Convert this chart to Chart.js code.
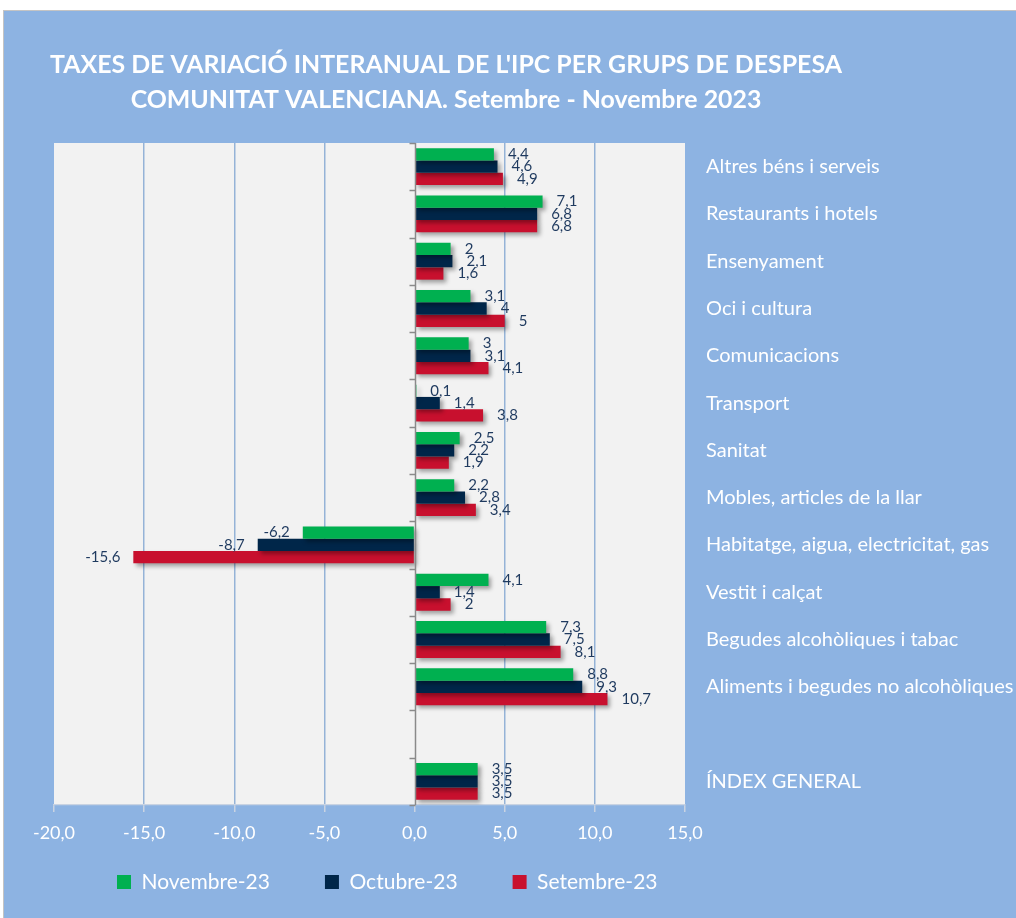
<!DOCTYPE html>
<html>
<head>
<meta charset="utf-8">
<script src="https://cdn.jsdelivr.net/npm/chart.js@4.4.0/dist/chart.umd.min.js"></script>
<style>
  html, body { margin: 0; padding: 0; background: #ffffff; }
  #wrap { position: absolute; left: 3px; top: 10px; width: 1012px; height: 907px;
          border-left: 1px solid #c4c4c4; border-top: 1px solid #c4c4c4; background: #8db3e2; }
  canvas { display: block; }
</style>
</head>
<body>
<div id="wrap"><canvas id="c" width="1012" height="907"></canvas></div>
<script>
// ---- data ----
const categories = [
  'Altres béns i serveis',
  'Restaurants i hotels',
  'Ensenyament',
  'Oci i cultura',
  'Comunicacions',
  'Transport',
  'Sanitat',
  'Mobles, articles de la llar',
  'Habitatge, aigua, electricitat, gas',
  'Vestit i calçat',
  'Begudes alcohòliques i tabac',
  'Aliments i begudes no alcohòliques',
  '',
  'ÍNDEX GENERAL'
];
const seriesNames = ['Novembre-23', 'Octubre-23', 'Setembre-23'];
const novembre = [4.4, 7.1, 2, 3.1, 3, 0.1, 2.5, 2.2, -6.2, 4.1, 7.3, 8.8, null, 3.5];
const octubre  = [4.6, 6.8, 2.1, 4, 3.1, 1.4, 2.2, 2.8, -8.7, 1.4, 7.5, 9.3, null, 3.5];
const setembre = [4.9, 6.8, 1.6, 5, 4.1, 3.8, 1.9, 3.4, -15.6, 2, 8.1, 10.7, null, 3.5];
const xTicks = [-20, -15, -10, -5, 0, 5, 10, 15];
const titleLines = [
  "TAXES DE VARIACIÓ INTERANUAL DE L'IPC PER GRUPS DE DESPESA",
  "COMUNITAT VALENCIANA. Setembre - Novembre 2023"
];

// ---- style ----
const colors = ['#00b050', '#002649', '#c8102e'];
const FONT = 'Lato, "Open Sans", sans-serif';
const fmt = v => String(v).replace('.', ',');

const plotBg = {
  id: 'plotBg',
  beforeDraw(chart) {
    const {ctx, chartArea: a} = chart;
    ctx.save();
    ctx.fillStyle = '#f2f2f2';
    ctx.fillRect(a.left, a.top, a.right - a.left, a.bottom - a.top);
    ctx.restore();
  }
};

// let the x-axis labels draw below the (thin) axis box, and nudge the legend row
const layoutTweak = {
  id: 'layoutTweak',
  afterLayout(chart) {
    const x = chart.scales.x;
    x.bottom = x.top + 50;
    if (chart.legend) { chart.legend.left += 8; }
  }
};

const shadow = {
  id: 'shadow',
  beforeDatasetsDraw(chart) {
    const ctx = chart.ctx;
    ctx.save();
    ctx.shadowColor = 'rgba(0,0,0,0.35)';
    ctx.shadowBlur = 4;
    ctx.shadowOffsetX = 3;
    ctx.shadowOffsetY = 3;
  },
  afterDatasetsDraw(chart) {
    chart.ctx.restore();
  }
};

const zeroAxis = {
  id: 'zeroAxis',
  afterDatasetsDraw(chart) {
    const {ctx, chartArea: a, scales: {x}} = chart;
    const x0 = Math.round(x.getPixelForValue(0)) + 0.5;
    ctx.save();
    ctx.strokeStyle = '#8a8a8a';
    ctx.lineWidth = 1.5;
    ctx.beginPath();
    ctx.moveTo(x0, a.top);
    ctx.lineTo(x0, a.bottom);
    const n = categories.length;
    const step = (a.bottom - a.top) / n;
    for (let i = 0; i <= n; i++) {
      const yy = Math.round(a.top + i * step) + 0.5;
      ctx.moveTo(x0 - 6, yy);
      ctx.lineTo(x0, yy);
    }
    ctx.stroke();
    ctx.restore();
  }
};

const valueLabels = {
  id: 'valueLabels',
  afterDatasetsDraw(chart) {
    const ctx = chart.ctx;
    ctx.save();
    ctx.font = '15px ' + FONT;
    ctx.fillStyle = '#1f3a5f';
    ctx.textBaseline = 'middle';
    chart.data.datasets.forEach((ds, di) => {
      const meta = chart.getDatasetMeta(di);
      meta.data.forEach((bar, i) => {
        const v = ds.data[i];
        if (v === null || v === undefined) return;
        if (v >= 0) {
          ctx.textAlign = 'left';
          ctx.fillText(fmt(v), bar.x + 14, bar.y);
        } else {
          ctx.textAlign = 'right';
          ctx.fillText(fmt(v), bar.x - 13, bar.y);
        }
      });
    });
    ctx.restore();
  }
};

const titlePlugin = {
  id: 'customTitle',
  afterDraw(chart) {
    const ctx = chart.ctx;
    ctx.save();
    ctx.fillStyle = '#ffffff';
    ctx.textAlign = 'center';
    ctx.textBaseline = 'middle';
    ctx.font = 'bold 24px ' + FONT;
    const w = ctx.measureText(titleLines[0]).width;
    const size = 24 * 792 / w;
    ctx.font = 'bold ' + size.toFixed(2) + 'px ' + FONT;
    ctx.fillText(titleLines[0], 442, 54);
    ctx.fillText(titleLines[1], 442, 89);
    ctx.restore();
  }
};

new Chart(document.getElementById('c'), {
  type: 'bar',
  data: {
    labels: categories,
    datasets: [
      { label: seriesNames[0], data: novembre, backgroundColor: colors[0] },
      { label: seriesNames[1], data: octubre,  backgroundColor: colors[1] },
      { label: seriesNames[2], data: setembre, backgroundColor: colors[2] }
    ]
  },
  options: {
    indexAxis: 'y',
    responsive: false,
    animation: false,
    devicePixelRatio: 1,
    categoryPercentage: 0.78,
    barPercentage: 1,
    layout: { padding: { left: 50, top: 132, right: 0, bottom: 15.5 } },
    scales: {
      x: {
        position: 'bottom',
        min: -20, max: 15,
        afterBuildTicks(scale) { scale.ticks = xTicks.map(v => ({ value: v })); },
        afterFit(scale) { scale.height = 11.5; },
        ticks: {
          color: '#ffffff',
          font: { family: FONT, size: 18 },
          padding: 10,
          maxRotation: 0,
          autoSkip: false,
          callback: v => v.toFixed(1).replace('.', ',')
        },
        grid: {
          color: ctx => (ctx.tick && (ctx.tick.value === -20 || ctx.tick.value === 15 || ctx.tick.value === 0)) ? 'rgba(0,0,0,0)' : '#95b3d7',
          lineWidth: 1.5,
          drawTicks: true,
          tickLength: 7,
          tickColor: '#c9d3e2'
        },
        border: { display: true, color: '#c9d3e2', width: 1.3 }
      },
      y: {
        position: 'right',
        afterFit(scale) { scale.width = 331; },
        ticks: {
          color: '#ffffff',
          font: { family: FONT, size: 20 },
          padding: 21,
          autoSkip: false
        },
        grid: { display: false, drawTicks: false },
        border: { display: false }
      }
    },
    plugins: {
      legend: {
        position: 'bottom',
        align: 'start',
        labels: {
          color: '#ffffff',
          font: { family: FONT, size: 21 },
          boxWidth: 14,
          boxHeight: 14,
          padding: 55
        }
      },
      title: { display: false },
      tooltip: { enabled: false }
    }
  },
  plugins: [plotBg, layoutTweak, shadow, zeroAxis, valueLabels, titlePlugin]
});
</script>
</body>
</html>
